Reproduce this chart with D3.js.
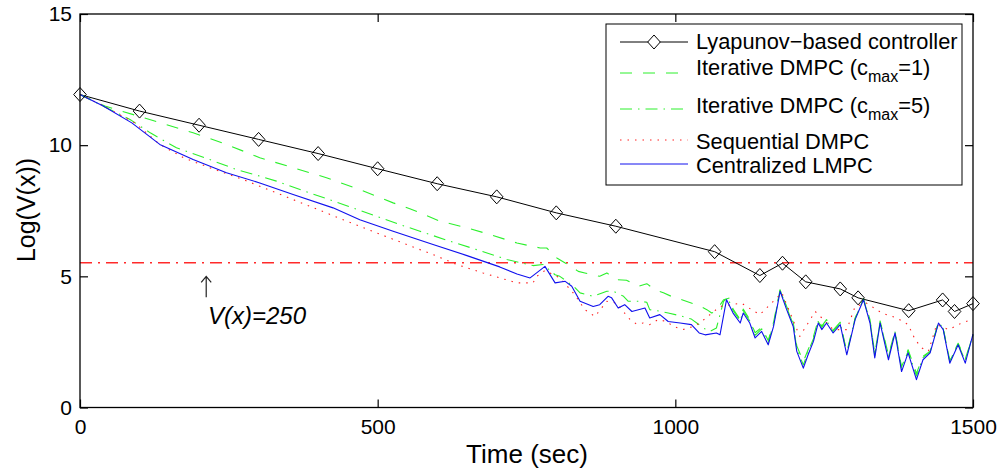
<!DOCTYPE html>
<html>
<head>
<meta charset="utf-8">
<script src="https://cdn.jsdelivr.net/npm/d3@7"></script>
<style>
  body { margin: 0; background: #fff; }
  text { font-family: "Liberation Sans", Arial, sans-serif; fill: #000; }
</style>
</head>
<body>
<div class="canvas"></div>
<script>
// values: [time (sec), Log(V(x))]
const lyapunov = [[0,11.93],[100,11.3],[200,10.76],[300,10.22],[400,9.68],[500,9.1],[600,8.53],[700,8.03],[800,7.42],[900,6.91],[1066,5.94],[1142,5.03],[1180,5.5],[1219,4.79],[1277,4.52],[1307,4.18],[1392,3.69],[1449,4.1],[1469,3.66],[1500,3.96]];

const iterC1 = [[0,11.93],[42,11.49],[134,10.86],[190,10.47],[246,10.03],[302,9.52],[358,9.14],[414,8.76],[470,8.31],[526,7.8],[554,7.58],[605,7.1],[650,6.85],[689,6.59],[734,6.27],[773,6.08],[784,6.08],[801,5.7],[815,5.51],[837,5.19],[848,5.13],[873,5.0],[885,5.13],[901,4.87],[918,4.85],[938,4.62],[952,4.72],[966,4.49],[980,4.37],[999,4.18],[1011,4.11],[1030,3.96],[1036,3.92],[1053,3.73],[1061,3.6],[1069,3.69],[1081,4.11],[1092,4.18],[1097,3.75],[1109,3.35],[1114,3.75],[1125,3.35],[1134,2.85],[1145,3.05],[1156,2.55],[1165,3.25],[1176,4.5],[1187,3.85],[1198,3.25],[1204,2.35],[1215,1.75],[1223,2.2],[1232,2.7],[1240,3.35],[1246,3.1],[1254,3.35],[1265,2.95],[1277,3.25],[1288,2.1],[1302,3.4],[1316,4.15],[1327,3.35],[1335,2.05],[1344,3.3],[1358,2.0],[1369,2.9],[1380,1.55],[1391,2.2],[1405,1.3],[1416,1.95],[1428,2.15],[1442,3.25],[1450,3.0],[1461,1.8],[1475,2.45],[1487,1.85],[1500,2.75]];

const iterC5 = [[0,11.93],[84,10.98],[118,10.47],[162,9.9],[218,9.45],[263,9.07],[302,8.82],[330,8.63],[386,8.18],[442,7.74],[498,7.29],[538,6.97],[571,6.72],[621,6.34],[672,5.98],[717,5.64],[761,5.41],[778,5.45],[798,5.06],[806,5.0],[829,4.62],[840,4.37],[862,4.24],[885,4.43],[896,4.43],[913,4.24],[921,4.05],[941,4.05],[952,4.01],[957,3.73],[977,3.66],[988,3.6],[1008,3.5],[1027,3.37],[1036,3.22],[1047,3.03],[1058,2.9],[1069,3.03],[1081,4.05],[1088,4.18],[1097,3.7],[1109,3.3],[1114,3.68],[1125,3.3],[1134,2.75],[1145,3.0],[1156,2.48],[1165,3.18],[1176,4.48],[1187,3.8],[1198,3.18],[1204,2.25],[1215,1.62],[1223,2.12],[1232,2.62],[1240,3.28],[1246,3.05],[1254,3.3],[1265,2.9],[1277,3.22],[1288,2.08],[1302,3.4],[1316,4.12],[1327,3.3],[1335,1.98],[1344,3.28],[1358,1.92],[1369,2.88],[1380,1.48],[1391,2.15],[1405,1.2],[1416,1.9],[1428,2.12],[1442,3.25],[1450,3.02],[1461,1.76],[1475,2.42],[1487,1.78],[1500,2.78]];

const sequential = [[0,11.93],[39,11.5],[92,10.85],[134,10.03],[174,9.52],[218,9.14],[274,8.69],[330,8.18],[386,7.67],[442,7.16],[498,6.66],[549,6.21],[593,5.83],[633,5.45],[677,5.13],[734,4.75],[761,4.75],[767,5.0],[781,5.22],[806,4.94],[831,4.3],[848,3.73],[865,3.47],[885,4.05],[901,3.98],[910,3.73],[924,3.35],[935,3.18],[946,3.22],[957,3.16],[971,3.35],[985,3.28],[997,3.09],[1013,2.97],[1030,3.09],[1041,3.22],[1075,3.85],[1111,3.98],[1128,3.73],[1142,3.54],[1179,4.37],[1209,2.71],[1235,3.66],[1249,3.35],[1265,2.97],[1288,2.97],[1302,3.85],[1321,3.98],[1347,3.6],[1372,3.41],[1391,3.16],[1403,2.58],[1414,2.27],[1425,2.14],[1439,3.16],[1459,2.97],[1481,3.22],[1498,3.35]];

const centralized = [[0,11.93],[39,11.49],[87,10.85],[134,10.03],[190,9.45],[246,8.95],[302,8.56],[358,8.12],[425,7.61],[470,7.16],[526,6.72],[593,6.21],[650,5.79],[705,5.36],[734,5.09],[756,4.94],[767,5.13],[781,5.38],[798,4.75],[815,4.81],[826,4.62],[840,4.05],[862,3.85],[873,3.92],[887,4.24],[893,4.18],[904,3.79],[915,3.92],[927,3.66],[949,3.79],[957,3.41],[974,3.54],[988,3.28],[1008,3.22],[1027,3.16],[1040,2.84],[1050,2.77],[1069,2.84],[1075,2.77],[1086,4.11],[1097,3.6],[1109,3.22],[1114,3.6],[1125,3.22],[1134,2.65],[1145,2.9],[1156,2.39],[1165,3.09],[1176,4.43],[1187,3.73],[1198,3.09],[1204,2.14],[1215,1.5],[1223,2.01],[1232,2.52],[1240,3.22],[1246,2.97],[1254,3.22],[1265,2.84],[1277,3.16],[1288,2.01],[1302,3.35],[1316,4.11],[1327,3.22],[1335,1.89],[1344,3.22],[1358,1.82],[1369,2.84],[1380,1.37],[1391,2.08],[1405,1.06],[1416,1.82],[1428,2.08],[1442,3.22],[1450,2.97],[1461,1.69],[1475,2.39],[1487,1.69],[1500,2.8]];

const thresholdV = 5.52;   // log(250)
const xTicks = [0, 500, 1000, 1500];
const yTicks = [0, 5, 10, 15];

const seriesNames = ['Lyapunov\u2212based controller', 'Iterative DMPC (c', 'Iterative DMPC (c', 'Sequential DMPC', 'Centralized LMPC'];

const dims = { width: 1003, height: 472 };
const box = { left: 80, right: 973, top: 14, bottom: 407.5 };

const svg = d3.select('.canvas')
  .append('svg')
  .attr('width', dims.width)
  .attr('height', dims.height);

const x = d3.scaleLinear().domain([0, 1500]).range([box.left, box.right]);
const y = d3.scaleLinear().domain([0, 15]).range([box.bottom, box.top]);

const line = d3.line().x(d => x(d[0])).y(d => y(d[1]));

const styles = [
  { stroke: '#000', width: 1, dash: null },
  { stroke: '#2cf02c', width: 1.1, dash: '12,11' },
  { stroke: '#2cf02c', width: 1.1, dash: '12,6,1.5,6' },
  { stroke: '#ff2020', width: 1.1, dash: '1.5,6' },
  { stroke: '#1010ee', width: 1.1, dash: null }
];

// threshold line V(x)=250
svg.append('line')
  .attr('x1', x(0)).attr('x2', x(1500))
  .attr('y1', y(thresholdV)).attr('y2', y(thresholdV))
  .attr('stroke', '#ff2a2a')
  .attr('stroke-width', 1.4)
  .attr('stroke-dasharray', '12,6,2,6');

const allSeries = [lyapunov, iterC1, iterC5, sequential, centralized];
allSeries.forEach((s, i) => {
  svg.append('path')
    .datum(s)
    .attr('d', line)
    .attr('fill', 'none')
    .attr('stroke', styles[i].stroke)
    .attr('stroke-width', styles[i].width)
    .attr('stroke-dasharray', styles[i].dash)
    .attr('stroke-linejoin', 'round');
});

const diamond = (cx, cy) => `M${cx},${cy - 7}L${cx + 6.3},${cy}L${cx},${cy + 7}L${cx - 6.3},${cy}Z`;

svg.append('g')
  .selectAll('path')
  .data(lyapunov)
  .enter()
  .append('path')
    .attr('d', d => diamond(x(d[0]), y(d[1])))
    .attr('fill', 'none')
    .attr('stroke', '#000')
    .attr('stroke-width', 1);

// axes (ticks inside, MATLAB box style)
const axBottom = svg.append('g')
  .attr('transform', `translate(0, ${box.bottom})`)
  .call(d3.axisBottom(x).tickValues(xTicks).tickFormat(d3.format('d'))
    .tickSize(-8).tickSizeOuter(0).tickPadding(12));
const axLeft = svg.append('g')
  .attr('transform', `translate(${box.left}, 0)`)
  .call(d3.axisLeft(y).tickValues(yTicks).tickFormat(d3.format('d'))
    .tickSize(-8).tickSizeOuter(0).tickPadding(8));
const axTop = svg.append('g')
  .attr('transform', `translate(0, ${box.top})`)
  .call(d3.axisTop(x).tickValues(xTicks).tickSize(-8).tickSizeOuter(0).tickFormat(''));
const axRight = svg.append('g')
  .attr('transform', `translate(${box.right}, 0)`)
  .call(d3.axisRight(y).tickValues(yTicks).tickSize(-8).tickSizeOuter(0).tickFormat(''));

[axBottom, axLeft, axTop, axRight].forEach(g => {
  g.select('.domain').remove();
  g.selectAll('line').attr('stroke', '#000').attr('stroke-width', 1.2);
  g.selectAll('text')
    .attr('font-size', 21)
    .attr('fill', '#000')
    .style('font-family', '"Liberation Sans", Arial, sans-serif');
});

svg.append('rect')
  .attr('x', box.left).attr('y', box.top)
  .attr('width', box.right - box.left)
  .attr('height', box.bottom - box.top)
  .attr('fill', 'none')
  .attr('stroke', '#000')
  .attr('stroke-width', 1.3);

// axis titles
svg.append('text')
  .attr('x', 527).attr('y', 463)
  .attr('text-anchor', 'middle')
  .attr('font-size', 26)
  .text('Time (sec)');

svg.append('text')
  .attr('transform', 'translate(35, 210) rotate(-90)')
  .attr('text-anchor', 'middle')
  .attr('font-size', 25)
  .text('Log(V(x))');

// annotation
const arrowT = 212;
const ax = x(arrowT), ay1 = y(4.2), ay2 = y(5.0);
svg.append('path')
  .attr('d', `M${ax},${ay1}L${ax},${ay2}M${ax - 5},${ay2 + 6}L${ax},${ay2}L${ax + 5},${ay2 + 6}`)
  .attr('fill', 'none')
  .attr('stroke', '#222')
  .attr('stroke-width', 1.2);

svg.append('text')
  .attr('x', x(215)).attr('y', y(3.18))
  .attr('font-size', 24)
  .attr('font-style', 'italic')
  .text('V(x)=250');

// legend
const legend = svg.append('g');
legend.append('rect')
  .attr('x', 606).attr('y', 24)
  .attr('width', 356).attr('height', 161)
  .attr('fill', '#fff')
  .attr('stroke', '#000')
  .attr('stroke-width', 1);

const legendLineY = [42, 73, 109, 140, 164];
const legendTextY = [49.3, 75, 113.3, 149.3, 173.3];
const subs = [null, '=1)', '=5)', null, null];

seriesNames.forEach((name, i) => {
  legend.append('line')
    .attr('x1', 620).attr('x2', 688)
    .attr('y1', legendLineY[i]).attr('y2', legendLineY[i])
    .attr('stroke', styles[i].stroke)
    .attr('stroke-width', 1)
    .attr('stroke-dasharray', styles[i].dash);

  const t = legend.append('text')
    .attr('x', 696).attr('y', legendTextY[i])
    .attr('font-size', 21.8)
    .text(name);

  if (subs[i]) {
    t.append('tspan').attr('font-size', 16).attr('dy', 7).text('max');
    t.append('tspan').attr('dy', -7).text(subs[i]);
  }
});

legend.append('path')
  .attr('d', diamond(654, legendLineY[0]))
  .attr('fill', '#fff')
  .attr('stroke', '#000');
</script>
</body>
</html>
